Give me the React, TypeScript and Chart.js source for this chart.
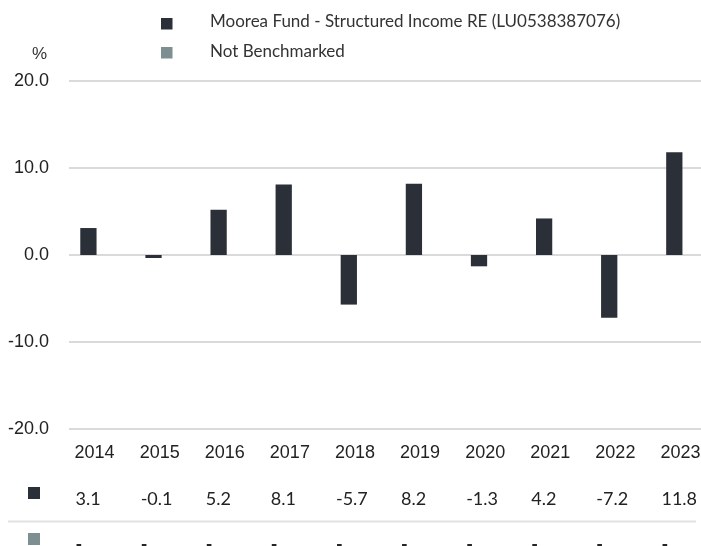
import React, { useEffect, useRef } from "react";
import { Chart, registerables } from "chart.js";

Chart.register(...registerables);

const years = ["2014", "2015", "2016", "2017", "2018", "2019", "2020", "2021", "2022", "2023"];
const fundValues = [3.1, -0.1, 5.2, 8.1, -5.7, 8.2, -1.3, 4.2, -7.2, 11.8];
const benchmarkValues: (number | null)[] = [null, null, null, null, null, null, null, null, null, null];
const fundLabel = "Moorea Fund - Structured Income RE (LU0538387076)";
const benchLabel = "Not Benchmarked";
const yMin = -20;
const yMax = 20;
const yStep = 10;
const unitLabel = "%";

const fundColor = "#2b2f38";
const benchColor = "#7d8f91";
const gridColor = "#dadada";

const extrasPlugin = {
  id: "extras",
  beforeDatasetsDraw(chart: any) {
    const ctx = chart.ctx;
    const ys = chart.scales.y;
    ctx.save();
    ctx.strokeStyle = gridColor;
    ctx.lineWidth = 2;
    ys.ticks.forEach((t: any) => {
      const y = ys.getPixelForValue(t.value);
      ctx.beginPath();
      ctx.moveTo(69, y);
      ctx.lineTo(chart.width, y);
      ctx.stroke();
    });
    ctx.restore();
  },
  afterDraw(chart: any) {
    const ctx = chart.ctx;
    const xs = chart.scales.x;
    ctx.save();
    // legend
    ctx.fillStyle = fundColor;
    ctx.fillRect(161, 18, 11.5, 11.5);
    ctx.fillStyle = benchColor;
    ctx.fillRect(161, 47, 11.5, 11.5);
    ctx.fillStyle = "#333";
    ctx.font = "17px Lato";
    ctx.textAlign = "left";
    ctx.textBaseline = "alphabetic";
    ctx.fillText(fundLabel, 210, 27);
    ctx.fillText(benchLabel, 210, 57);
    // unit
    ctx.font = "17px 'Liberation Sans'";
    ctx.fillStyle = "#333";
    ctx.textAlign = "center";
    ctx.fillText(unitLabel, 39.5, 59);

    // table
    ctx.textAlign = "left";
    years.forEach((yr, i) => {
      const x = xs.getPixelForValue(i) - 22;
      ctx.font = "18px 'Liberation Sans'";
      ctx.fillStyle = "#222";
      ctx.fillText(yr, x, 458);
      ctx.font = "18px Lato";
      ctx.fillStyle = "#222";
      ctx.fillText(fundValues[i].toFixed(1), x + 1, 504.5);
      const b = benchmarkValues[i];
      ctx.font = "bold 18px Lato";
      ctx.fillText(b === null ? "-" : b.toFixed(1), x + 1, 550.5);
    });
    ctx.fillStyle = fundColor;
    ctx.fillRect(28, 487, 12, 12);
    ctx.fillStyle = benchColor;
    ctx.fillRect(28, 533, 12, 12);
    ctx.strokeStyle = "#e2e2e2";
    ctx.lineWidth = 2;
    ctx.beginPath();
    ctx.moveTo(8, 521.5);
    ctx.lineTo(696, 521.5);
    ctx.stroke();
    ctx.restore();
  },
};

export default function App() {
  const ref = useRef<HTMLCanvasElement | null>(null);
  useEffect(() => {
    if (!ref.current) return;
    const chart = new Chart(ref.current, {
      type: "bar",
      data: {
        labels: years,
        datasets: [
          {
            label: fundLabel,
            data: fundValues,
            backgroundColor: fundColor,
            categoryPercentage: 0.5,
            barPercentage: 1,
            minBarLength: 3,
          },
          {
            label: benchLabel,
            data: benchmarkValues,
            backgroundColor: benchColor,
            categoryPercentage: 0.5,
            barPercentage: 1,
          },
        ],
      },
      options: {
        responsive: false,
        animation: false,
        layout: { padding: { top: 81, bottom: 117, left: 0, right: 0 } },
        plugins: { legend: { display: false }, tooltip: { enabled: false } },
        scales: {
          x: { display: false, offset: true, grid: { display: false } },
          y: {
            min: yMin,
            max: yMax,
            ticks: {
              stepSize: yStep,
              padding: 15,
              color: "#222",
              font: { family: "'Liberation Sans'", size: 18 },
              callback: (v: any) => Number(v).toFixed(1),
            },
            grid: { display: false, drawTicks: false },
            border: { display: false },
            afterFit: (s: any) => {
              s.width = 64;
            },
          },
        },
      },
      plugins: [extrasPlugin],
    } as any);
    return () => chart.destroy();
  }, []);
  return (
    <div style={{ position: "absolute", left: 0, top: 0, width: 701, height: 546, overflow: "hidden", background: "#fff" }}>
      <canvas ref={ref} width={715} height={546} style={{ display: "block" }} />
    </div>
  );
}
